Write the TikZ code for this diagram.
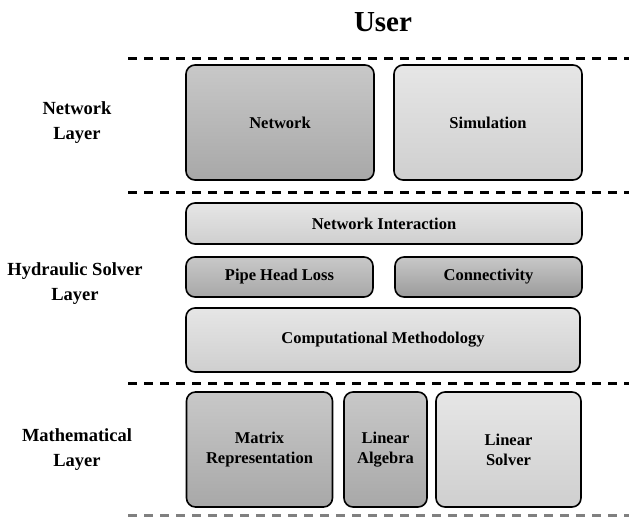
\documentclass[tikz,border=0pt]{standalone}
\usepackage{fontspec}
\setmainfont{Liberation Serif}
\definecolor{darktop}{HTML}{C8C8C8}
\definecolor{darkbot}{HTML}{A8A8A8}
\definecolor{lighttop}{HTML}{E6E6E6}
\definecolor{lightbot}{HTML}{CFCFCF}

\begin{document}
\begin{tikzpicture}[x=1pt,y=-1pt,
		layer/.style={font=\bfseries\fontsize{18.5}{25}\selectfont, align=center},
		darkbox/.style={draw, line width=1.6pt, rounded corners=9pt, inner sep=0pt, align=center,
			top color=darktop, bottom color=darkbot, font=\bfseries\fontsize{16.5}{20}\selectfont},
		lightbox/.style={darkbox, top color=lighttop, bottom color=lightbot},
		sep/.style={line width=3pt, dash pattern=on 9pt off 7pt}]
		\useasboundingbox (0,0) rectangle (629,517);

		\node (user) [font=\bfseries\fontsize{29}{30}\selectfont] at (383,22) {User};

		% layer separators
		\foreach \y/\n in {58/a,192/b,383/c} {
			\coordinate (sep\n l) at (128,\y);
			\coordinate (sep\n r) at (629,\y);
			\draw[sep] (sep\n l) -- (sep\n r);
		}
		\coordinate (sepdl) at (128,515.5);
		\coordinate (sepdr) at (629,515.5);
		\draw[sep, black!50] (sepdl) -- (sepdr);

		\node (netlayer) [layer] at (77,123) {Network\\Layer};
		\node (hydlayer) [layer] at (75,284) {Hydraulic Solver\\Layer};
		\node (mathlayer) [layer] at (77,450) {Mathematical\\Layer};

		\node (network) [darkbox, minimum width=188pt, minimum height=115pt] at (280,122.5) {Network};
		\node (simulation) [lightbox, minimum width=188pt, minimum height=115pt] at (488,122.5) {Simulation};

		\node (interaction) [lightbox, minimum width=396pt, minimum height=41pt] at (384,223.5) {Network Interaction};
		\node (headloss) [darkbox, minimum width=187pt, minimum height=40pt] at (279.5,277) {Pipe Head Loss};
		\node (connectivity) [darkbox, bottom color=darkbot!92!black, minimum width=187pt, minimum height=40pt] at (488.5,277) {Connectivity};
		\node (method) [lightbox, minimum width=394pt, minimum height=64pt] at (383,340) {Computational Methodology};

		\node (matrix) [darkbox, minimum width=146pt, minimum height=115pt] at (259.5,449.5) {Matrix\\Representation};
		\node (algebra) [darkbox, minimum width=83pt, minimum height=115pt] at (385.5,449.5) {Linear\\Algebra};
		\node (solver) [lightbox, minimum width=145pt, minimum height=115pt] at (508.5,449.5) {Linear\\Solver};

\end{tikzpicture}
\end{document}
